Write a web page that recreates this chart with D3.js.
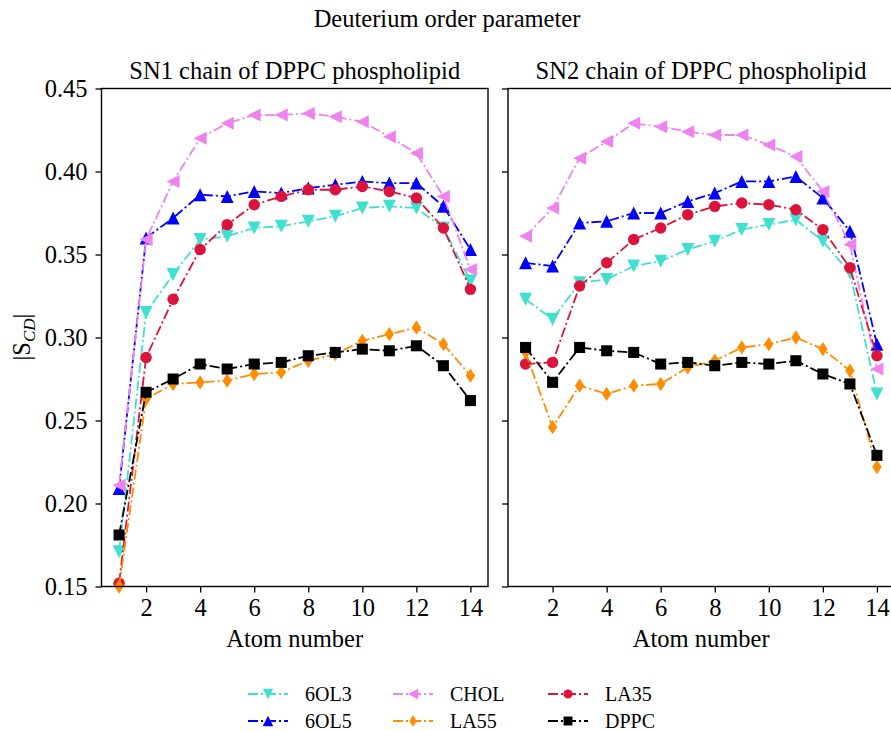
<!DOCTYPE html>
<html>
<head>
<meta charset="utf-8">
<script src="https://cdn.jsdelivr.net/npm/d3@7"></script>
<style>
body{margin:0;background:#fff;}
</style>
</head>
<body>
<svg id="chart" width="891" height="731"></svg>
<script>
const atoms = [1,2,3,4,5,6,7,8,9,10,11,12,13,14];
const seriesNames = ["6OL3","6OL5","CHOL","LA55","LA35","DPPC"];
const seriesColors = ["#40E0D0","#0000FF","#EE82EE","#FF8C00","#DC143C","#000000"];
const seriesMarkers = ["tdown","tup","tleft","thind","circle","square"];
const drawOrder = ["6OL3","6OL5","CHOL","LA35","LA55","DPPC"];

// SN1 chain values
const sn1_6OL3 = [0.171,0.315,0.338,0.359,0.361,0.366,0.367,0.370,0.373,0.378,0.379,0.378,0.366,0.334];
const sn1_6OL5 = [0.209,0.360,0.372,0.386,0.385,0.388,0.387,0.390,0.392,0.394,0.393,0.393,0.379,0.353];
const sn1_CHOL = [0.211,0.359,0.394,0.420,0.429,0.434,0.434,0.435,0.433,0.430,0.421,0.411,0.385,0.341];
const sn1_LA55 = [0.150,0.263,0.272,0.273,0.274,0.278,0.279,0.286,0.290,0.298,0.302,0.306,0.296,0.277];
const sn1_LA35 = [0.152,0.288,0.323,0.353,0.368,0.380,0.385,0.389,0.389,0.391,0.388,0.384,0.366,0.329];
const sn1_DPPC = [0.181,0.267,0.275,0.284,0.281,0.284,0.285,0.289,0.291,0.293,0.292,0.295,0.283,0.262];

// SN2 chain values
const sn2_6OL3 = [0.323,0.311,0.333,0.335,0.343,0.346,0.353,0.358,0.365,0.368,0.371,0.358,0.339,0.266];
const sn2_6OL5 = [0.345,0.343,0.369,0.370,0.375,0.375,0.382,0.387,0.394,0.394,0.397,0.384,0.364,0.296];
const sn2_CHOL = [0.361,0.378,0.408,0.418,0.429,0.427,0.424,0.422,0.422,0.416,0.409,0.388,0.356,0.281];
const sn2_LA55 = [0.291,0.246,0.271,0.266,0.271,0.272,0.282,0.286,0.294,0.296,0.300,0.293,0.280,0.222];
const sn2_LA35 = [0.284,0.285,0.331,0.345,0.359,0.366,0.374,0.379,0.381,0.380,0.377,0.365,0.342,0.289];
const sn2_DPPC = [0.294,0.273,0.294,0.292,0.291,0.284,0.285,0.283,0.285,0.284,0.286,0.278,0.272,0.229];

const yTicks = [0.15,0.20,0.25,0.30,0.35,0.40,0.45];
const xTicks = [2,4,6,8,10,12,14];

const panels = [
  {title:"SN1 chain of DPPC phospholipid", data:{"6OL3":sn1_6OL3,"6OL5":sn1_6OL5,"CHOL":sn1_CHOL,"LA55":sn1_LA55,"LA35":sn1_LA35,"DPPC":sn1_DPPC}, left:101.5, right:488, showY:true},
  {title:"SN2 chain of DPPC phospholipid", data:{"6OL3":sn2_6OL3,"6OL5":sn2_6OL5,"CHOL":sn2_CHOL,"LA55":sn2_LA55,"LA35":sn2_LA35,"DPPC":sn2_DPPC}, left:508, right:894.5, showY:false}
];

const plotTop = 88.5, plotBottom = 586.5;
const svg = d3.select("#chart");
const FONT = "'Liberation Serif', 'Times New Roman', Times, serif";
const FS = 24.5;

function txt(sel, size){
  return sel.style("font-family",FONT).style("font-size",size+"px").style("fill","#000");
}

function markerPath(type, s){
  const h = s/2;
  switch(type){
    case "tdown": return `M${-h},${-h}L${h},${-h}L0,${h}Z`;
    case "tup": return `M${-h},${h}L${h},${h}L0,${-h}Z`;
    case "tleft": return `M${h},${-h}L${h},${h}L${-h},0Z`;
    case "thind": return `M0,${-h*1.1}L${h*0.72},0L0,${h*1.1}L${-h*0.72},0Z`;
    case "square": return `M${-h*0.85},${-h*0.85}H${h*0.85}V${h*0.85}H${-h*0.85}Z`;
    case "circle": {const r=h*0.88; return `M${r},0A${r},${r} 0 1,1 ${-r},0A${r},${r} 0 1,1 ${r},0Z`;}
  }
}

const dash = "10,3,2,3";
const y = d3.scaleLinear().domain([0.15,0.45]).range([plotBottom, plotTop]);

txt(svg.append("text").attr("x",447).attr("y",27).attr("text-anchor","middle"),FS)
  .text("Deuterium order parameter");

panels.forEach((p,pi) => {
  const x = d3.scaleLinear().domain([0.35,14.65]).range([p.left, p.right]);
  const g = svg.append("g");
  txt(g.append("text").attr("x",p.showY ? (p.left+p.right)/2 : 701).attr("y",79).attr("text-anchor","middle"),FS)
    .text(p.title);
  const cid = "clip"+pi;
  svg.append("clipPath").attr("id",cid).append("rect")
    .attr("x",p.left).attr("y",plotTop-8).attr("width",p.right-p.left).attr("height",plotBottom-plotTop+16);
  const pg = g.append("g").attr("clip-path",`url(#${cid})`);
  drawOrder.forEach(name => {
    const i = seriesNames.indexOf(name);
    const vals = p.data[name];
    const line = d3.line().x((d,j)=>x(atoms[j])).y(d=>y(d));
    pg.append("path").attr("d",line(vals)).attr("fill","none")
      .attr("stroke",seriesColors[i]).attr("stroke-width",1.8).attr("stroke-dasharray",dash);
    pg.selectAll(null).data(vals).enter().append("path")
      .attr("transform",(d,j)=>`translate(${x(atoms[j])},${y(d)})`)
      .attr("d",markerPath(seriesMarkers[i],13))
      .attr("fill",seriesColors[i]);
  });
  g.append("rect").attr("x",p.left).attr("y",plotTop).attr("width",p.right-p.left).attr("height",plotBottom-plotTop)
    .attr("fill","none").attr("stroke","#000").attr("stroke-width",1.4);
  const xa = d3.axisBottom(x).tickValues(xTicks).tickSize(6).tickPadding(6).tickFormat(d3.format("d"));
  const xg = g.append("g").attr("transform",`translate(0,${plotBottom})`).call(xa);
  xg.select(".domain").remove();
  xg.selectAll("line").attr("stroke","#000").attr("stroke-width",1.3);
  txt(xg.selectAll("text"),FS);
  const ya = d3.axisLeft(y).tickValues(yTicks).tickSize(6).tickPadding(8).tickFormat(d3.format(".2f"));
  const yg = g.append("g").attr("transform",`translate(${p.left},0)`).call(ya);
  yg.select(".domain").remove();
  yg.selectAll("line").attr("stroke","#000").attr("stroke-width",1.3);
  txt(yg.selectAll("text"),FS);
  if(!p.showY) yg.selectAll("text").remove();
  txt(g.append("text").attr("x",p.left+(488-101.5)/2).attr("y",647).attr("text-anchor","middle"),FS)
    .text("Atom number");
});

const yl = txt(svg.append("text").attr("transform",`translate(30,337) rotate(-90)`).attr("text-anchor","middle"),FS);
yl.append("tspan").text("|S");
yl.append("tspan").attr("dy",5).style("font-size","17px").style("font-style","italic").text("CD");
yl.append("tspan").attr("dy",-5).text("|");

const legCols = [248, 393, 548];
const legRows = [694, 721];
seriesNames.forEach((name,i) => {
  const cx = legCols[Math.floor(i/2)], cy = legRows[i%2];
  const lg = svg.append("g");
  lg.append("line").attr("x1",cx).attr("x2",cx+40).attr("y1",cy).attr("y2",cy)
    .attr("stroke",seriesColors[i]).attr("stroke-width",1.8).attr("stroke-dasharray",dash);
  lg.append("path").attr("transform",`translate(${cx+20},${cy})`)
    .attr("d",markerPath(seriesMarkers[i],10.5)).attr("fill",seriesColors[i]);
  txt(lg.append("text").attr("x",cx+57).attr("y",cy+7),20).text(name);
});
</script>
</body>
</html>
